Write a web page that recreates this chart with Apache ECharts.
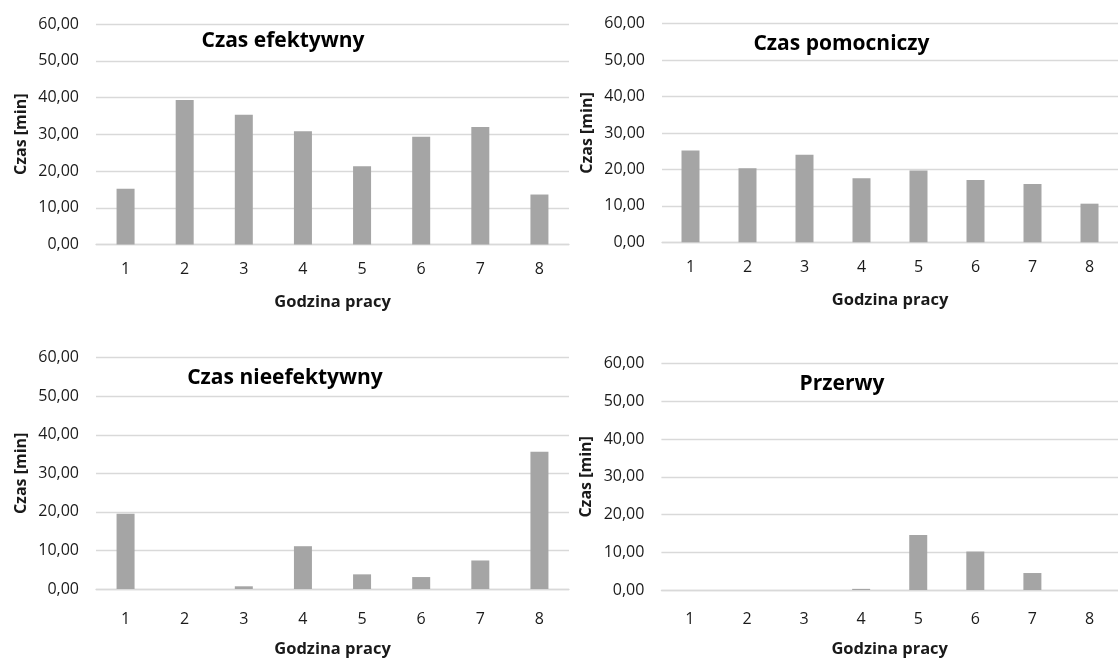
<!DOCTYPE html>
<html>
<head>
<meta charset="utf-8">
<script src="https://cdn.jsdelivr.net/npm/echarts@6/dist/echarts.min.js"></script>
<style>
html,body{margin:0;padding:0;background:#fff;}
#c{width:1118px;height:659px;}
</style>
</head>
<body>
<div id="c"></div>
<script>
const categories = ['1','2','3','4','5','6','7','8'];
const efektywny    = [15.2, 39.3, 35.3, 30.8, 21.3, 29.3, 32.0, 13.6];
const pomocniczy   = [25.2, 20.3, 24.0, 17.6, 19.7, 17.1, 16.0, 10.6];
const nieefektywny = [19.5, 0, 0.7, 11.1, 3.8, 3.1, 7.4, 35.6];
const przerwy      = [0, 0, 0, 0.3, 14.6, 10.2, 4.5, 0];
const panelTitles  = ['Czas efektywny','Czas pomocniczy','Czas nieefektywny','Przerwy'];
const xName = 'Godzina pracy';
const yName = 'Czas [min]';
const yMin = 0, yMax = 60, yStep = 10;

const FONT = 'Open Sans';
const TXT = '#1a1a1a';
const GRID = '#D9D9D9';
const BAR = '#A5A5A5';

const grids = [
  {left:96, right:549, top:24, bottom:414.5},
  {left:662, right:-13.6, top:23.7, bottom:416.7},
  {left:96, right:549, top:357.7, bottom:66.3},
  {left:661.4, right:-13.6, top:363.7, bottom:65}
];
const labelMargin = [17, 17, 22, 21];
const xNameGap = [49, 49, 52, 51];
const titlePos = [[278,40],[836.5,42.3],[280,376.7],[837,382.7]];
const allData = [efektywny, pomocniczy, nieefektywny, przerwy];
const titleSize = 21;

const option = {
  animation:false,
  backgroundColor:'#fff',
  title: panelTitles.map((t,i)=>({
    text:t, left:titlePos[i][0], top:titlePos[i][1]-titleSize*0.68, textAlign:'center',
    textStyle:{fontFamily:FONT, fontWeight:'bold', fontSize:titleSize, color:'#000'}
  })),
  grid: grids,
  xAxis: grids.map((g,i)=>({
    type:'category', gridIndex:i, data:categories,
    name:xName, nameLocation:'middle', nameGap:xNameGap[i],
    nameTextStyle:{fontFamily:FONT, fontWeight:'bold', fontSize:16.5, color:TXT},
    axisLine:{lineStyle:{color:GRID, width:1.3}},
    axisTick:{show:false},
    axisLabel:{fontFamily:FONT, fontSize:16, color:TXT, margin:labelMargin[i]}
  })),
  yAxis: grids.map((g,i)=>({
    type:'value', gridIndex:i, min:yMin, max:yMax, interval:yStep,
    name:yName, nameLocation:'middle', nameGap:67, nameRotate:90,
    nameTextStyle:{fontFamily:FONT, fontWeight:'bold', fontSize:16, color:TXT},
    axisLine:{show:false}, axisTick:{show:false},
    splitLine:{lineStyle:{color:GRID, width:1.3}},
    axisLabel:{fontFamily:FONT, fontSize:16, color:TXT, margin:17,
      formatter:v=>v.toFixed(2).replace('.',',')}
  })),
  series: allData.map((d,i)=>({
    type:'bar', xAxisIndex:i, yAxisIndex:i, data:d, barWidth:18,
    itemStyle:{color:BAR}
  }))
};
const chart = echarts.init(document.getElementById('c'), null, {renderer:'canvas'});
chart.setOption(option);
</script>
</body>
</html>
